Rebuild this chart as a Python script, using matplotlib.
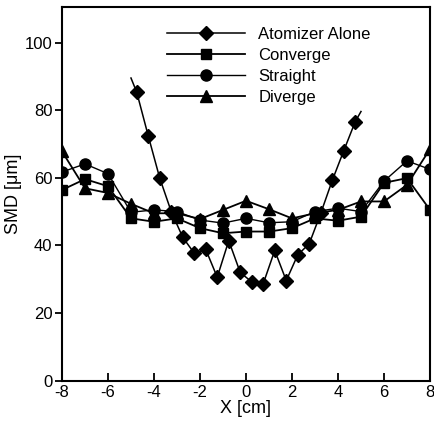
import matplotlib
matplotlib.use("Agg")
import matplotlib.pyplot as plt

plt.rcParams['font.family'] = ['Liberation Sans', 'DejaVu Sans']
plt.rcParams['axes.unicode_minus'] = False

# atomizer alone: 0.5 cm spacing, ends at +-5 carry no marker
x_atom = [-5, -4.75, -4.25, -3.75, -3.25, -2.75, -2.25, -1.75, -1.25, -0.75, -0.25,
          0.25, 0.75, 1.25, 1.75, 2.25, 2.75, 3.25, 3.75, 4.25, 4.75, 5]
smd_atom = [89.5, 85.3, 72.4, 59.9, 50.0, 42.4, 37.7, 38.8, 30.6, 41.4, 32.0,
            29.2, 28.7, 38.5, 29.6, 37.2, 40.5, 49.5, 59.2, 68.0, 76.6, 79.6]

x_cm = [-8, -7, -6, -5, -4, -3, -2, -1, 0, 1, 2, 3, 4, 5, 6, 7, 8]
smd_conv = [56.4, 59.6, 57.5, 48.0, 47.0, 48.0, 45.1, 43.6, 44.1, 44.1, 45.1, 48.0, 47.3, 48.5, 58.5, 59.9, 50.5]
smd_str = [61.7, 64.1, 61.2, 49.8, 50.5, 50.0, 47.5, 46.6, 48.0, 46.7, 47.0, 50.0, 51.0, 50.0, 59.0, 65.0, 62.5]
smd_div = [67.8, 56.9, 55.5, 52.3, 49.5, 49.5, 47.8, 50.5, 53.2, 50.7, 48.0, 49.5, 50.5, 53.0, 53.0, 57.9, 68.5]

xticks = [-8, -6, -4, -2, 0, 2, 4, 6, 8]
yticks = [0, 20, 40, 60, 80, 100]

fig = plt.figure(figsize=(4.35, 4.3), dpi=100)
ax = fig.add_axes([0.1425, 0.1147, 0.846, 0.869])

ax.plot(x_atom, smd_atom, color='black', lw=1.1, marker='D', markersize=7.5,
        markevery=list(range(1, len(x_atom) - 1)), label='Atomizer Alone')
ax.plot(x_cm, smd_conv, color='black', lw=1.3, marker='s', markersize=7, label='Converge')
ax.plot(x_cm, smd_str, color='black', lw=1.0, marker='o', markersize=8, label='Straight')
ax.plot(x_cm, smd_div, color='black', lw=1.3, marker='^', markersize=8, label='Diverge')

ax.set_xlim(-8, 8)
ax.set_ylim(0, 110.5)
ax.set_xticks(xticks)
ax.set_yticks(yticks)
ax.tick_params(axis='x', direction='in', length=6, width=1.3, labelsize=12, pad=3)
ax.tick_params(axis='y', direction='out', length=5, width=1.3, labelsize=12, pad=2)
for s in ax.spines.values():
    s.set_linewidth(1.5)

ax.set_xlabel('X [cm]', fontsize=13, labelpad=0)
ax.set_ylabel('SMD [\u03bcm]', fontsize=13, labelpad=2)

ax.legend(loc='upper left', bbox_to_anchor=(0.266, 0.964), frameon=False, fontsize=12,
          handlelength=4.7, handletextpad=0.8, labelspacing=0.35, borderaxespad=0)

fig.savefig('out.png', dpi=100)
